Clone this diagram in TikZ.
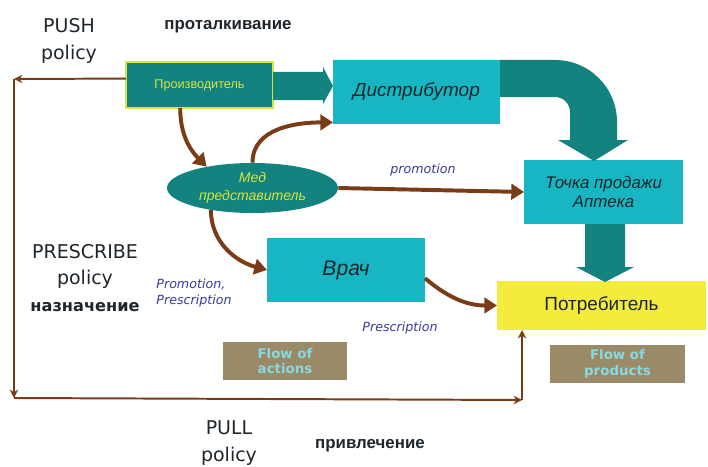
\documentclass[tikz,border=0pt]{standalone}
\usepackage{fontspec}
\setmainfont{Liberation Sans}
\newfontfamily\labfont{DejaVu Sans}
\usetikzlibrary{shapes.geometric,arrows.meta}
\definecolor{tealdark}{HTML}{13837F}
\definecolor{cyanbox}{HTML}{17B6C2}
\definecolor{yelbox}{HTML}{F4EC3C}
\definecolor{brownln}{HTML}{7A3C16}
\definecolor{khaki}{HTML}{9A8A68}
\definecolor{flowtxt}{HTML}{8AD8E0}
\definecolor{bluetxt}{HTML}{3A3A9E}
\definecolor{yeltxt}{HTML}{D8E43C}
\definecolor{darktxt}{HTML}{1E262C}

\begin{document}
\begin{tikzpicture}[x=0.025cm,y=0.025cm,
        box/.style={inner sep=0pt, outer sep=0pt, align=center},
        cbox/.style={box, fill=cyanbox, text=darktxt, font=\fontsize{13.5}{16}\selectfont\itshape},
        flowbox/.style={box, fill=khaki, text=flowtxt, minimum height=0.95cm,
            font=\labfont\bfseries\fontsize{9.5}{11}\selectfont},
        policy/.style={draw=brownln, line width=1.4pt, -{Stealth[length=6pt,width=6pt]}},
        flow/.style={draw=brownln, line width=2.8pt, -{Triangle[length=9pt,width=11pt]}},
        bigarr/.style={fill=tealdark},
        note/.style={text=bluetxt, align=left, font=\labfont\itshape\fontsize{9}{12}\selectfont},
        title/.style={text=darktxt, align=center, font=\labfont\fontsize{13.5}{19}\selectfont},
        rutitle/.style={text=darktxt, font=\bfseries\fontsize{12}{14}\selectfont}]
    \useasboundingbox (0,0) rectangle (708,-466);
    % boxes
    \node[box, fill=tealdark, draw=yeltxt, line width=0.8pt, text=yeltxt, font=\fontsize{9}{11}\selectfont,
        minimum width=3.675cm, minimum height=1.15cm] (prod) at (199.5,-85) {Производитель};
    \node[cbox, minimum width=4.175cm, minimum height=1.6cm] (dist) at (416.5,-92) {Дистрибутор};
    \node[cbox, font=\fontsize{12}{14}\selectfont\itshape, minimum width=3.975cm, minimum height=1.6cm]
        (tochka) at (603.5,-192) {Точка продажи\\Аптека};
    \node[cbox, font=\fontsize{15}{18}\selectfont\itshape, minimum width=3.95cm, minimum height=1.6cm]
        (vrach) at (346,-270) {Врач};
    \node[box, fill=yelbox, text=darktxt, font=\fontsize{13.5}{16}\selectfont,
        minimum width=5.225cm, minimum height=1.225cm] (potr) at (601.5,-305.5) {Потребитель};
    \node[ellipse, fill=tealdark, text=yeltxt, align=center, inner sep=0pt,
        font=\fontsize{10}{13}\selectfont\itshape, minimum width=4.275cm, minimum height=1.25cm]
        (med) at (252.5,-188) {Мед\\представитель};
    \node[flowbox, minimum width=3.1cm] (flowa) at (285,-361) {Flow of\\actions};
    \node[flowbox, minimum width=3.375cm] (flowp) at (617.5,-364) {Flow of\\products};

    % block arrows
    \fill[bigarr] (prod.east |- 0,-72) -- (323,-72) -- (323,-67) -- (333,-86) -- (323,-104)
        -- (323,-100) -- (prod.east |- 0,-100) -- cycle;
    \fill[bigarr] (dist.north east) -- (555,-60) arc[start angle=90, end angle=0, radius=62]
        -- (617,-140) -- (628,-140) -- (594,-161) -- (558,-140) -- (570,-140) -- (570,-112)
        arc[start angle=0, end angle=90, radius=15] -- (dist.east |- 0,-97) -- cycle;
    \fill[bigarr] (585,-224) -- (625,-224) -- (625,-267) -- (634,-267) -- (605,-282)
        -- (576,-267) -- (585,-267) -- cycle;

    % brown connectors
    \draw[flow] (prod.-130) to[out=-90, in=135] (med.155);
    \draw[flow] (med.north) to[out=90, in=180] (dist.-160);
    \draw[flow] (med.east) -- (tochka.west);
    \draw[flow] (med.-152) to[out=-90, in=165] (vrach.west);
    \draw[flow] (vrach.-6) to[out=-40, in=180] (potr.west);

    % policy loop
    \coordinate (pushc) at (14,-79);
    \coordinate (botl) at (14,-398);
    \coordinate (botr) at (522,-400);
    \draw[policy] (prod.175) -- (pushc);
    \draw[policy] (pushc) -- (botl);
    \draw[policy] (botl) -- (botr);
    \draw[policy] (botr) -- (botr |- potr.south);

    % labels
    \node[title] (push) at (69,-41) {PUSH\\policy};
    \node[rutitle] (pushru) at (228,-27) {проталкивание};
    \node[title] (presc) at (85,-278) {PRESCRIBE\\policy\\{\bfseries\fontsize{11.5}{14}\selectfont назначение}};
    \node[title] (pull) at (229,-443) {PULL\\policy};
    \node[rutitle] (pullru) at (370,-446) {привлечение};
    \node[note] (promo) at (423,-170) {promotion};
    \node[note] (promopre) at (194,-293) {Promotion,\\Prescription};
    \node[note] (pre) at (400,-328) {Prescription};
\end{tikzpicture}
\end{document}
